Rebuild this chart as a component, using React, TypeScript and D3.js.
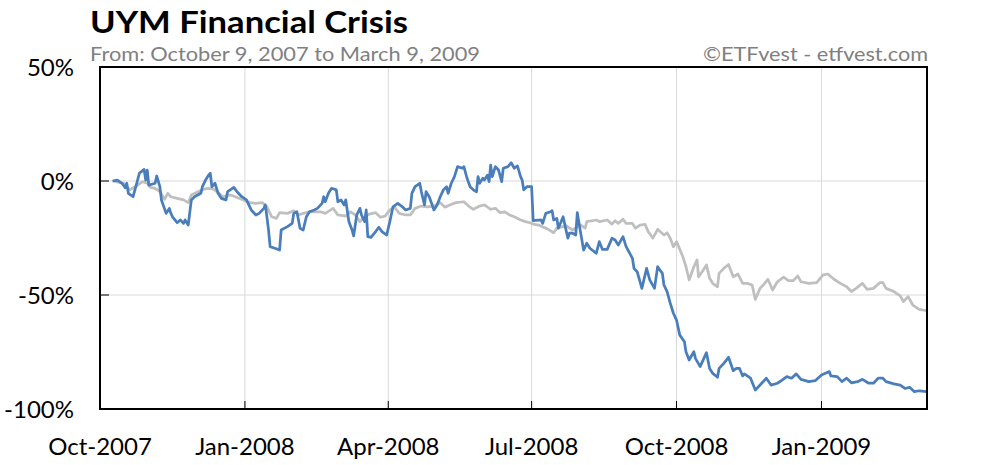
import React from 'react';
import * as d3 from 'd3';

// UYM (ProShares Ultra Basic Materials) vs benchmark, % change from Oct 9, 2007
const uymSeries: [string, number][] = [
  ['2007-10-09', 0], ['2007-10-12', 0.4], ['2007-10-15', -1], ['2007-10-17', -3], ['2007-10-18', -1],
  ['2007-10-19', -5.4], ['2007-10-22', -6.9], ['2007-10-24', -1.8], ['2007-10-26', 3.4], ['2007-10-29', 5.1],
  ['2007-10-30', 0.4], ['2007-10-31', 4.8], ['2007-11-01', -1.8], ['2007-11-05', -1], ['2007-11-06', 2.2],
  ['2007-11-08', -2.5], ['2007-11-09', -8.3], ['2007-11-12', -14.2], ['2007-11-14', -12], ['2007-11-15', -14.2],
  ['2007-11-16', -15.7], ['2007-11-19', -18.3], ['2007-11-21', -17.1], ['2007-11-23', -18.6], ['2007-11-24', -17.1],
  ['2007-11-26', -19.3], ['2007-11-28', -8.3], ['2007-11-30', -6.9], ['2007-12-04', -5.4], ['2007-12-05', -2.5],
  ['2007-12-07', 0.4], ['2007-12-09', 2.6], ['2007-12-10', 3.4], ['2007-12-11', -2.5], ['2007-12-13', -1],
  ['2007-12-15', -5.4], ['2007-12-17', -7.6], ['2007-12-20', -8.3], ['2007-12-21', -4.7], ['2007-12-25', -2.8],
  ['2007-12-27', -4.7], ['2007-12-30', -6.9], ['2008-01-02', -8.3], ['2008-01-05', -12.7], ['2008-01-08', -14.9],
  ['2008-01-10', -14.2], ['2008-01-13', -12], ['2008-01-14', -10.5], ['2008-01-16', -21.5], ['2008-01-17', -28.8],
  ['2008-01-20', -29.5], ['2008-01-23', -30.3], ['2008-01-24', -21.5], ['2008-01-28', -20], ['2008-01-31', -18.6],
  ['2008-02-01', -14.2], ['2008-02-03', -13.5], ['2008-02-05', -20.7], ['2008-02-07', -21.5], ['2008-02-09', -15.7],
  ['2008-02-11', -13.5], ['2008-02-14', -12.7], ['2008-02-16', -12], ['2008-02-19', -9.8], ['2008-02-20', -6.9],
  ['2008-02-21', -9.1], ['2008-02-23', -5.4], ['2008-02-25', -3.2], ['2008-02-28', -3.9], ['2008-02-29', -9.1],
  ['2008-03-02', -8.3], ['2008-03-04', -10.5], ['2008-03-05', -8.3], ['2008-03-07', -17.8], ['2008-03-09', -21.5],
  ['2008-03-10', -24.1], ['2008-03-12', -14.9], ['2008-03-14', -12], ['2008-03-15', -14.9], ['2008-03-17', -17.8],
  ['2008-03-18', -12.7], ['2008-03-19', -24.4], ['2008-03-21', -24.7], ['2008-03-24', -22.2], ['2008-03-26', -20.3],
  ['2008-03-28', -22.2], ['2008-03-31', -23.7], ['2008-04-02', -17.8], ['2008-04-04', -11.3], ['2008-04-07', -9.8],
  ['2008-04-10', -11.3], ['2008-04-12', -12.7], ['2008-04-15', -12], ['2008-04-16', -5.4], ['2008-04-18', -2.5],
  ['2008-04-21', -1], ['2008-04-22', -4.7], ['2008-04-24', -10.5], ['2008-04-25', -4.7], ['2008-04-27', -6.9],
  ['2008-04-30', -12.7], ['2008-05-02', -10.5], ['2008-05-04', -6.9], ['2008-05-06', -3.9], ['2008-05-08', -2.5],
  ['2008-05-09', -5.4], ['2008-05-11', -1], ['2008-05-13', 1.9], ['2008-05-15', 6.3], ['2008-05-18', 5.6],
  ['2008-05-19', 6.3], ['2008-05-21', 1.2], ['2008-05-23', -2.5], ['2008-05-25', -3.9], ['2008-05-27', -4.7],
  ['2008-05-28', 1.9], ['2008-05-29', -1], ['2008-05-31', 1.2], ['2008-06-01', 0.4], ['2008-06-03', 2.6],
  ['2008-06-04', -0.3], ['2008-06-05', 7], ['2008-06-06', 1.9], ['2008-06-08', 6.3], ['2008-06-10', 4.8],
  ['2008-06-12', -0.3], ['2008-06-13', 5.6], ['2008-06-16', 6.3], ['2008-06-18', 8], ['2008-06-20', 5.6],
  ['2008-06-22', 6.6], ['2008-06-24', 1.9], ['2008-06-25', 0.4], ['2008-06-26', -3.9], ['2008-06-28', -2.5],
  ['2008-07-01', -2.5], ['2008-07-02', -17.4], ['2008-07-07', -17.1], ['2008-07-08', -18.6], ['2008-07-10', -14.2],
  ['2008-07-13', -13.5], ['2008-07-14', -13], ['2008-07-15', -17.1], ['2008-07-17', -16.4], ['2008-07-18', -20.7],
  ['2008-07-21', -15.7], ['2008-07-24', -25.1], ['2008-07-25', -22.9], ['2008-07-27', -22.9], ['2008-07-29', -23.7],
  ['2008-07-30', -13.9], ['2008-08-01', -22.2], ['2008-08-03', -30.3], ['2008-08-05', -27.3], ['2008-08-07', -29.5],
  ['2008-08-11', -31.7], ['2008-08-13', -26.6], ['2008-08-15', -30], ['2008-08-18', -30], ['2008-08-21', -25.1],
  ['2008-08-23', -25.9], ['2008-08-25', -28.1], ['2008-08-28', -24.4], ['2008-08-30', -28.8], ['2008-09-03', -33.9],
  ['2008-09-04', -38.3], ['2008-09-06', -39.8], ['2008-09-09', -47.1], ['2008-09-12', -38.3], ['2008-09-14', -43.4],
  ['2008-09-17', -47.1], ['2008-09-19', -37.6], ['2008-09-22', -40.5], ['2008-09-23', -45.6], ['2008-09-25', -48.5],
  ['2008-09-27', -53.6], ['2008-09-29', -58], ['2008-10-01', -61], ['2008-10-03', -67.5], ['2008-10-06', -70.5],
  ['2008-10-07', -74.9], ['2008-10-09', -78.5], ['2008-10-12', -74.9], ['2008-10-13', -77.8], ['2008-10-16', -81.4],
  ['2008-10-20', -75.3], ['2008-10-22', -82.2], ['2008-10-24', -84.4], ['2008-10-27', -86.1], ['2008-10-28', -82.2],
  ['2008-10-31', -80], ['2008-11-03', -77.3], ['2008-11-06', -83.2], ['2008-11-08', -82.2], ['2008-11-10', -82.2],
  ['2008-11-12', -85.5], ['2008-11-13', -84.6], ['2008-11-17', -86.5], ['2008-11-20', -91.7], ['2008-11-23', -89.5],
  ['2008-11-27', -86.5], ['2008-11-30', -89.5], ['2008-12-04', -88.7], ['2008-12-07', -87.3], ['2008-12-10', -85.8],
  ['2008-12-13', -86.5], ['2008-12-16', -84.6], ['2008-12-19', -87], ['2008-12-24', -88], ['2008-12-28', -87.6],
  ['2009-01-01', -85.1], ['2009-01-06', -83.6], ['2009-01-07', -85.5], ['2009-01-11', -85.8], ['2009-01-14', -88],
  ['2009-01-17', -86.5], ['2009-01-20', -88.5], ['2009-01-24', -88], ['2009-01-27', -87], ['2009-01-31', -88.7],
  ['2009-02-03', -88.7], ['2009-02-06', -86.5], ['2009-02-09', -86.5], ['2009-02-11', -88], ['2009-02-16', -89],
  ['2009-02-20', -89.5], ['2009-02-23', -91], ['2009-02-26', -90.5], ['2009-03-01', -92.4], ['2009-03-04', -92],
  ['2009-03-09', -92.4],
];

const benchSeries: [string, number][] = [
  ['2007-10-09', 0], ['2007-10-16', -1], ['2007-10-20', -3.9], ['2007-10-24', -2.2], ['2007-10-28', -0.3],
  ['2007-10-31', -1], ['2007-11-02', -2.8], ['2007-11-05', -3.2], ['2007-11-08', -4.7], ['2007-11-11', -8],
  ['2007-11-13', -5.4], ['2007-11-15', -6.9], ['2007-11-19', -7.6], ['2007-11-23', -8.3], ['2007-11-26', -9.5],
  ['2007-11-28', -6.1], ['2007-12-01', -5.1], ['2007-12-06', -3.6], ['2007-12-09', -3.2], ['2007-12-12', -3.6],
  ['2007-12-15', -5.1], ['2007-12-18', -6.9], ['2007-12-23', -6.1], ['2007-12-27', -7.2], ['2007-12-31', -8.3],
  ['2008-01-04', -9.5], ['2008-01-08', -9.8], ['2008-01-12', -9.5], ['2008-01-15', -11.3], ['2008-01-18', -15.7],
  ['2008-01-21', -16.4], ['2008-01-23', -13.9], ['2008-01-28', -14.2], ['2008-02-01', -13], ['2008-02-04', -14.9],
  ['2008-02-07', -14.2], ['2008-02-11', -13.5], ['2008-02-18', -13.5], ['2008-02-21', -14.2], ['2008-02-26', -12],
  ['2008-02-29', -14.9], ['2008-03-05', -15.4], ['2008-03-08', -13.5], ['2008-03-11', -14.9], ['2008-03-14', -17.8],
  ['2008-03-17', -15.7], ['2008-03-20', -14.5], ['2008-03-24', -13.9], ['2008-03-27', -15.9], ['2008-03-30', -15.4],
  ['2008-04-02', -12.7], ['2008-04-05', -11.5], ['2008-04-08', -14.2], ['2008-04-12', -14.9], ['2008-04-15', -14.9],
  ['2008-04-18', -12], ['2008-04-22', -11], ['2008-04-26', -11.3], ['2008-04-30', -11], ['2008-05-04', -9.5],
  ['2008-05-07', -11.5], ['2008-05-10', -10.5], ['2008-05-14', -9.5], ['2008-05-19', -9.1], ['2008-05-22', -11],
  ['2008-05-25', -12.4], ['2008-05-29', -11], ['2008-06-01', -10.5], ['2008-06-05', -12.4], ['2008-06-08', -12],
  ['2008-06-11', -13.9], ['2008-06-14', -13.5], ['2008-06-17', -14.9], ['2008-06-20', -15.7], ['2008-06-24', -17.1],
  ['2008-06-27', -17.8], ['2008-06-30', -18.3], ['2008-07-02', -18.9], ['2008-07-06', -19.5], ['2008-07-11', -21],
  ['2008-07-15', -22.7], ['2008-07-17', -20.7], ['2008-07-23', -19.7], ['2008-07-27', -21.5], ['2008-08-01', -19.3],
  ['2008-08-04', -20.7], ['2008-08-05', -17.8], ['2008-08-11', -17.1], ['2008-08-13', -17.8], ['2008-08-18', -17.1],
  ['2008-08-21', -18.9], ['2008-08-23', -17.4], ['2008-08-25', -18.6], ['2008-08-28', -16.8], ['2008-08-30', -18.6],
  ['2008-09-03', -18.6], ['2008-09-05', -20.7], ['2008-09-08', -19.3], ['2008-09-11', -19], ['2008-09-13', -22.2],
  ['2008-09-16', -25.1], ['2008-09-19', -21.2], ['2008-09-23', -23.7], ['2008-09-25', -22.7], ['2008-09-27', -25.1],
  ['2008-09-29', -28.8], ['2008-10-01', -26.6], ['2008-10-05', -33.2], ['2008-10-07', -37.6], ['2008-10-09', -43.4],
  ['2008-10-12', -37.6], ['2008-10-14', -34.6], ['2008-10-15', -42], ['2008-10-18', -39], ['2008-10-20', -36.8],
  ['2008-10-22', -42.7], ['2008-10-24', -44.9], ['2008-10-27', -46.4], ['2008-10-28', -40.5], ['2008-10-31', -38.3],
  ['2008-11-03', -36.6], ['2008-11-06', -42], ['2008-11-09', -40.8], ['2008-11-12', -44.9], ['2008-11-15', -44.9],
  ['2008-11-18', -45.6], ['2008-11-20', -51.9], ['2008-11-23', -47.1], ['2008-11-26', -44.9], ['2008-11-28', -43.1],
  ['2008-12-01', -47.8], ['2008-12-04', -44.2], ['2008-12-08', -42.2], ['2008-12-11', -43.7], ['2008-12-14', -43.7],
  ['2008-12-17', -41.7], ['2008-12-19', -44.2], ['2008-12-24', -44.9], ['2008-12-29', -44.6], ['2009-01-02', -41.2],
  ['2009-01-05', -40.8], ['2009-01-09', -43.1], ['2009-01-13', -44.9], ['2009-01-17', -46.4], ['2009-01-20', -48.5],
  ['2009-01-23', -47.1], ['2009-01-27', -44.9], ['2009-01-30', -47.5], ['2009-02-03', -47.1], ['2009-02-07', -44.6],
  ['2009-02-09', -44.6], ['2009-02-11', -47.1], ['2009-02-16', -48.5], ['2009-02-20', -50.4], ['2009-02-22', -52.9],
  ['2009-02-25', -50.7], ['2009-02-28', -54.4], ['2009-03-04', -56.3], ['2009-03-09', -56.9],
];

const xTickDates = ['2007-10-01', '2008-01-01', '2008-04-01', '2008-07-01', '2008-10-01', '2009-01-01'];
const yTickValues = [50, 0, -50, -100];

const title = 'UYM Financial Crisis';
const subtitle = 'From: October 9, 2007 to March 9, 2009';
const credit = '\u00A9ETFvest - etfvest.com';

const parse = d3.timeParse('%Y-%m-%d');
const fmt = d3.timeFormat('%b-%Y');

const App = () => {
  const width = 990;
  const height = 465;
  const margin = { top: 67, right: 63, bottom: 56, left: 100 };
  const font = 'Lato, "Open Sans", sans-serif';

  const x = d3.scaleTime()
    .domain([parse('2007-10-01')!, parse('2009-03-09')!])
    .range([margin.left, width - margin.right]);
  const y = d3.scaleLinear().domain([-100, 50]).range([height - margin.bottom, margin.top]);

  const line = d3.line<[string, number]>()
    .x(d => x(parse(d[0])!))
    .y(d => y(d[1]));

  const x0 = margin.left;
  const x1 = width - margin.right;
  const y0 = margin.top;
  const y1 = height - margin.bottom;

  return (
    <svg width={width} height={height} style={{ position: 'absolute', left: 0, top: 0, background: '#fff' }}>
      <text x={90} y={33} fontFamily={font} fontWeight={700} fontSize={30} fill="#000"
        textLength={318} lengthAdjust="spacingAndGlyphs">{title}</text>
      <text x={90} y={61} fontFamily={font} fontSize={20} fill="#808080"
        textLength={390} lengthAdjust="spacingAndGlyphs">{subtitle}</text>
      <text x={928} y={61} fontFamily={font} fontSize={20} fill="#808080" textAnchor="end"
        textLength={225} lengthAdjust="spacingAndGlyphs">{credit}</text>

      {/* gridlines */}
      {xTickDates.slice(1).map(d => (
        <line key={d} x1={x(parse(d)!)} x2={x(parse(d)!)} y1={y0} y2={y1} stroke="#d9d9d9" strokeWidth={1} />
      ))}
      {yTickValues.filter(v => v !== 50 && v !== -100).map(v => (
        <line key={v} x1={x0} x2={x1} y1={y(v)} y2={y(v)} stroke="#d9d9d9" strokeWidth={1} />
      ))}

      {/* ticks, inward */}
      {xTickDates.slice(1).map(d => (
        <line key={'t' + d} x1={x(parse(d)!)} x2={x(parse(d)!)} y1={y1} y2={y1 - 8} stroke="#000" strokeWidth={1} />
      ))}
      {yTickValues.map(v => (
        <line key={'t' + v} x1={x0} x2={x0 + 9} y1={y(v)} y2={y(v)} stroke="#000" strokeWidth={1} />
      ))}

      {/* series */}
      <path d={line(benchSeries)!} fill="none" stroke="#bfbfbf" strokeWidth={2.75} strokeLinejoin="round" />
      <path d={line(uymSeries)!} fill="none" stroke="#4a7ebb" strokeWidth={2.75} strokeLinejoin="round" />

      {/* frame */}
      <rect x={x0} y={y0} width={x1 - x0} height={y1 - y0} fill="none" stroke="#000" strokeWidth={2} />

      {/* labels */}
      {yTickValues.map(v => (
        <text key={'l' + v} x={74} y={y(v)} dy="0.36em" textAnchor="end" fontFamily={font} fontSize={24} fill="#000">
          {`${v}%`}
        </text>
      ))}
      {xTickDates.map(d => (
        <text key={'l' + d} x={x(parse(d)!)} y={455} textAnchor="middle" fontFamily={font} fontSize={24} fill="#000">
          {fmt(parse(d)!)}
        </text>
      ))}
    </svg>
  );
};

export default App;
